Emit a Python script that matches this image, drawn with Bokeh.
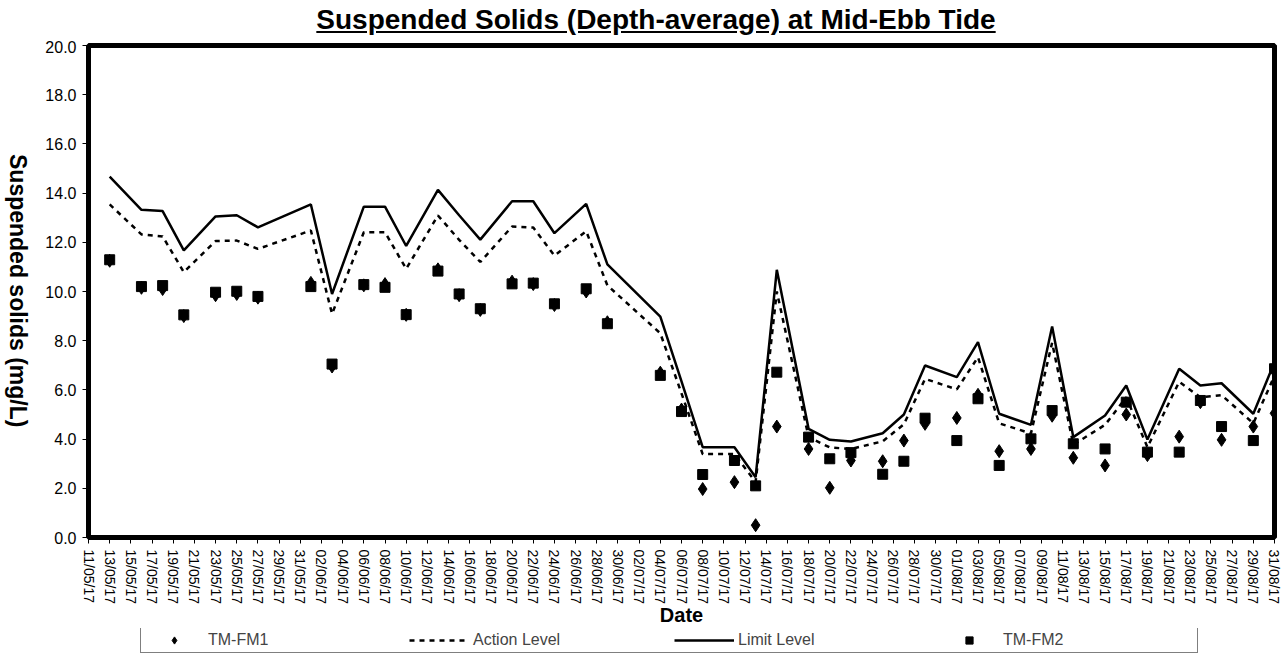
import math
import pandas as pd
from bokeh.plotting import figure
from bokeh.layouts import column, row
from bokeh.models import (ColumnDataSource, FixedTicker, DatetimeTickFormatter,
                          Legend, LegendItem, Range1d, Div)
from bokeh.embed import file_html
from bokeh.resources import INLINE

# ---------------- data ----------------
dates = ["2017-05-13", "2017-05-16", "2017-05-18", "2017-05-20", "2017-05-23",
         "2017-05-25", "2017-05-27", "2017-06-01", "2017-06-03", "2017-06-06",
         "2017-06-08", "2017-06-10", "2017-06-13", "2017-06-15", "2017-06-17",
         "2017-06-20", "2017-06-22", "2017-06-24", "2017-06-27", "2017-06-29",
         "2017-07-04", "2017-07-06", "2017-07-08", "2017-07-11", "2017-07-13",
         "2017-07-15", "2017-07-18", "2017-07-20", "2017-07-22", "2017-07-25",
         "2017-07-27", "2017-07-29", "2017-08-01", "2017-08-03", "2017-08-05",
         "2017-08-08", "2017-08-10", "2017-08-12", "2017-08-15", "2017-08-17",
         "2017-08-19", "2017-08-22", "2017-08-24", "2017-08-26", "2017-08-29",
         "2017-08-31"]

limit_level = [14.67, 13.32, 13.27, 11.67, 13.05, 13.10, 12.61, 13.54, 9.90, 13.45,
               13.45, 11.85, 14.13, 13.10, 12.11, 13.67, 13.67, 12.37, 13.56, 11.10,
               8.98, 6.35, 3.67, 3.67, 2.45, 10.88, 4.42, 3.97, 3.90, 4.24,
               5.00, 6.99, 6.52, 7.94, 5.03, 4.58, 8.58, 4.08, 4.96, 6.18,
               3.98, 6.86, 6.18, 6.27, 5.03, 7.13]

action_level = [13.54, 12.32, 12.24, 10.79, 12.05, 12.07, 11.73, 12.48, 9.09, 12.41,
                12.41, 10.92, 13.09, 12.10, 11.20, 12.64, 12.60, 11.46, 12.45, 10.25,
                8.30, 5.86, 3.39, 3.39, 2.26, 10.00, 4.08, 3.66, 3.60, 3.91,
                4.60, 6.45, 6.02, 7.33, 4.64, 4.23, 7.92, 3.77, 4.58, 5.70,
                3.67, 6.33, 5.70, 5.79, 4.64, 6.58]

tm_fm1 = [11.25, 10.15, 10.10, 9.00, 9.85, 9.90, 9.75, 10.35, 6.95, 10.25,
          10.30, 9.05, 10.90, 9.85, 9.25, 10.40, 10.30, 9.45, 10.00, 8.75,
          6.70, 5.20, 1.97, 2.25, 0.50, 4.51, 3.60, 2.02, 3.13, 3.10,
          3.94, 4.62, 4.86, 5.80, 3.51, 3.60, 4.95, 3.24, 2.93, 5.00,
          3.35, 4.10, 5.50, 3.97, 4.51, 5.05]

tm_fm2 = [11.29, 10.20, 10.24, 9.05, 9.97, 10.01, 9.80, 10.20, 7.05, 10.28,
          10.17, 9.06, 10.83, 9.90, 9.30, 10.31, 10.34, 9.50, 10.11, 8.69,
          6.59, 5.12, 2.56, 3.13, 2.10, 6.72, 4.08, 3.20, 3.45, 2.57,
          3.10, 4.85, 3.94, 5.64, 2.93, 4.01, 5.16, 3.81, 3.60, 5.50,
          3.47, 3.47, 5.57, 4.51, 3.94, 6.86]

axis_start = "2017-05-11"
axis_end = "2017-08-31"
y_ticks = [0, 2, 4, 6, 8, 10, 12, 14, 16, 18, 20]

title_text = "Suspended Solids (Depth-average) at Mid-Ebb Tide"
y_title = "Suspended solids (mg/L)"
x_title = "Date"
legend_labels = ["TM-FM1", "Action Level", "Limit Level", "TM-FM2"]

# ---------------- build ----------------
src = ColumnDataSource(dict(date=pd.to_datetime(dates), limit=limit_level,
                            action=action_level, fm1=tm_fm1, fm2=tm_fm2))

FONT = "Liberation Sans"
CSS_FONT = "font-family:'Liberation Sans',Arial,sans-serif;font-weight:bold;color:black;"
W = 1245

title_div = Div(
    text=('<div style="width:%dpx;box-sizing:border-box;padding-right:15px;'
          'text-align:center;%sfont-size:28px;line-height:30px;">'
          '<u>%s</u></div>') % (W, CSS_FONT, title_text),
    width=W, height=30)

ylab_div = Div(
    text=('<div style="height:572px;display:flex;flex-direction:column;'
          'justify-content:center;align-items:center;">'
          '<div style="writing-mode:vertical-rl;white-space:nowrap;%s'
          'font-size:23px;line-height:26px;">%s</div></div>') % (CSS_FONT, y_title),
    width=26, height=580)

p = figure(width=W, height=588, x_axis_type="datetime",
           x_range=Range1d(pd.Timestamp(axis_start), pd.Timestamp(axis_end)),
           y_range=Range1d(0, 20), output_backend="svg", toolbar_location=None,
           min_border_left=52, min_border_right=7, min_border_top=5,
           min_border_bottom=91)
p.background_fill_color = "white"
p.border_fill_color = "white"
p.outline_line_color = "black"
p.outline_line_width = 5
p.grid.visible = False

epoch = pd.Timestamp("1970-01-01")
tick_ms = [(t - epoch).total_seconds() * 1000.0
           for t in pd.date_range(axis_start, axis_end, freq="2D")]
p.xaxis.ticker = FixedTicker(ticks=tick_ms)
fmt = "%d/%m/%y"
p.xaxis.formatter = DatetimeTickFormatter(days=fmt, months=fmt, hours=fmt,
                                          years=fmt, minutes=fmt, seconds=fmt,
                                          milliseconds=fmt, minsec=fmt, hourmin=fmt)
p.xaxis.major_label_orientation = -math.pi / 2
p.yaxis.ticker = FixedTicker(ticks=y_ticks)
p.yaxis.major_label_overrides = {v: f"{v:.1f}" for v in y_ticks}

for ax in (p.xaxis[0], p.yaxis[0]):
    ax.axis_line_color = None
    ax.major_tick_line_color = "black"
    ax.major_tick_line_width = 1
    ax.major_tick_in = 0
    ax.major_tick_out = 6
    ax.minor_tick_line_color = None
    ax.major_label_text_font = FONT
    ax.major_label_text_color = "black"
p.xaxis.major_label_text_font_size = "14px"
p.xaxis.major_label_standoff = 6
p.xaxis.axis_label = x_title
p.xaxis.axis_label_text_font = FONT
p.xaxis.axis_label_text_font_style = "bold"
p.xaxis.axis_label_text_color = "black"
p.xaxis.axis_label_text_font_size = "20px"
p.xaxis.axis_label_standoff = -3
p.yaxis.major_label_text_font_size = "16px"
p.yaxis.major_label_standoff = 6

p.line("date", "action", source=src, line_color="black", line_width=2.5,
       line_dash="5 5")
p.line("date", "limit", source=src, line_color="black", line_width=2.5)
p.scatter("date", "fm1", source=src, marker="diamond", size=13,
          fill_color="black", line_color="black")
p.scatter("date", "fm2", source=src, marker="square", size=10,
          fill_color="black", line_color="black")

# ---- legend strip: own small figure; its renderers use the same data, which
# ---- falls outside this strip's range, so only the legend shows.
lg = figure(width=W, height=30, x_range=Range1d(0, 1), y_range=Range1d(0, 1),
            output_backend="svg", toolbar_location=None, min_border=0,
            x_axis_location=None, y_axis_location=None)
lg.grid.visible = False
lg.outline_line_color = None
g_fm1 = lg.scatter("date", "fm1", source=src, marker="diamond", size=13,
                   fill_color="black", line_color="black")
g_action = lg.line("date", "action", source=src, line_color="black",
                   line_width=2.5, line_dash="5 5")
g_limit = lg.line("date", "limit", source=src, line_color="black", line_width=2.5)
g_fm2 = lg.scatter("date", "fm2", source=src, marker="square", size=10,
                   fill_color="black", line_color="black")
legend = Legend(items=[LegendItem(label=legend_labels[0], renderers=[g_fm1]),
                       LegendItem(label=legend_labels[1], renderers=[g_action]),
                       LegendItem(label=legend_labels[2], renderers=[g_limit]),
                       LegendItem(label=legend_labels[3], renderers=[g_fm2])],
                orientation="horizontal", location=(52, 5),
                glyph_width=60, glyph_height=18, label_width=191,
                label_height=18, label_standoff=4, spacing=10, padding=3,
                margin=0, border_line_color="black", border_line_width=1.5,
                label_text_font=FONT, label_text_font_size="16px",
                background_fill_color="white", background_fill_alpha=1.0)
lg.add_layout(legend)

layout = row(ylab_div, column(title_div, p, lg, spacing=0), spacing=0)
open("out.html", "w").write(file_html(layout, INLINE))
